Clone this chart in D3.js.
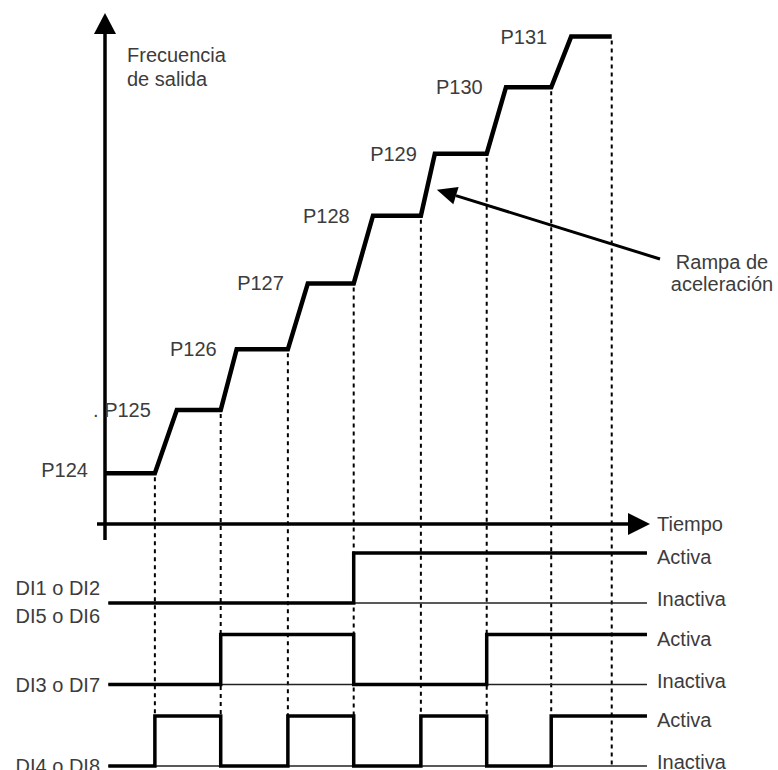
<!DOCTYPE html>
<meta charset="utf-8">
<script src="https://cdn.jsdelivr.net/npm/d3@7"></script>
<style>
body { margin: 0; background: #fff; }
text {
  font-family: "Liberation Sans", Arial, sans-serif;
  font-size: 20px;
  fill: #3c3c3c;
}
.thick { fill: none; stroke: #000; stroke-width: 4.5px; stroke-linejoin: miter; }
.sig { fill: none; stroke: #000; stroke-width: 3.5px; }
.ref { stroke: #222; stroke-width: 1.5px; }
.dots { stroke: #000; stroke-width: 2px; stroke-dasharray: 4,4; }
</style>
<body>
<script>
var width = 778,
    height = 770;

// speed references, one per step
var stepLabels = ["P124", ". P125", "P126", "P127", "P128", "P129", "P130", "P131"];
var stepLevels = [0.8, 1.8, 2.76, 3.8, 4.87, 5.85, 6.9, 7.7];
// times where the inputs change, and how long each ramp takes
var switchTimes = [0.75, 1.74, 2.75, 3.74, 4.75, 5.74, 6.71];
var rampTimes = [0.33, 0.24, 0.30, 0.29, 0.21, 0.29, 0.30];
var endTime = 7.62;

// digital inputs, state during each of the 8 steps
var inputNames = ["DI1 o DI2\nDI5 o DI6", "DI3 o DI7", "DI4 o DI8"];
var inputStates = [
  [0, 0, 0, 0, 1, 1, 1, 1],
  [0, 0, 1, 1, 0, 0, 1, 1],
  [0, 1, 0, 1, 0, 1, 0, 1]
];

var svg = d3.select("body").append("svg")
    .attr("width", width)
    .attr("height", height);

var x = d3.scaleLinear().domain([0, 8]).range([105, 105 + 8 * 66.5]);
var y = d3.scaleLinear().domain([0, 8]).range([524, 524 - 8 * 63.3]);

// rows of the digital panel
var rowLow = d3.scaleLinear().domain([0, 2]).range([603, 766]);
var rowHigh = function(i) { return rowLow(i) - 50; };

// ---- axes ----
svg.append("line")
    .attr("x1", x(0)).attr("x2", x(0))
    .attr("y1", 540).attr("y2", 30)
    .attr("stroke", "#000").attr("stroke-width", 3.5);
svg.append("path")
    .attr("d", "M" + x(0) + ",13L" + (x(0) - 11) + ",34L" + (x(0) + 11) + ",34Z")
    .attr("fill", "#000");

svg.append("line")
    .attr("x1", 97).attr("x2", 632)
    .attr("y1", y(0)).attr("y2", y(0))
    .attr("stroke", "#000").attr("stroke-width", 3.5);
svg.append("path")
    .attr("d", "M650," + y(0) + "L628," + (y(0) - 11) + "L628," + (y(0) + 11) + "Z")
    .attr("fill", "#000");

svg.append("text").attr("x", 127).attr("y", 62).text("Frecuencia");
svg.append("text").attr("x", 127).attr("y", 86).text("de salida");
svg.append("text").attr("x", 657).attr("y", y(0)).attr("dominant-baseline", "central").text("Tiempo");

// ---- dotted guides ----
var guideTimes = switchTimes.concat([endTime]);
svg.append("g").selectAll("line")
  .data(guideTimes)
  .enter().append("line")
    .attr("class", "dots")
    .attr("x1", function(d) { return x(d); })
    .attr("x2", function(d) { return x(d); })
    .attr("y1", function(d, i) { return y(stepLevels[i]) + 4; })
    .attr("y2", function(d, i) { return i == guideTimes.length - 1 ? rowLow(2) : rowHigh(2); });

// ---- frequency staircase ----
var pts = [[0, stepLevels[0]]];
switchTimes.forEach(function(t, i) {
  pts.push([t, stepLevels[i]]);
  pts.push([t + rampTimes[i], stepLevels[i + 1]]);
});
pts.push([endTime, stepLevels[stepLevels.length - 1]]);

var line = d3.line()
    .x(function(d) { return x(d[0]); })
    .y(function(d) { return y(d[1]); });

svg.append("path")
    .attr("class", "thick")
    .attr("d", line(pts));

// step labels
svg.append("g").selectAll("text")
  .data(stepLabels)
  .enter().append("text")
    .attr("text-anchor", "end")
    .attr("dominant-baseline", "central")
    .attr("x", function(d, i) { return i == 0 ? x(0) - 17 : x(switchTimes[i - 1]) - 4; })
    .attr("y", function(d, i) { return y(stepLevels[i]) + (i == 0 ? -3 : 0); })
    .text(function(d) { return d; });

// ---- ramp annotation ----
var rampTip = [x(switchTimes[4] + rampTimes[4] / 2) + 9, y((stepLevels[4] + stepLevels[5]) / 2) + 5];
var tail = [660, 259];
var dx = tail[0] - rampTip[0], dy = tail[1] - rampTip[1];
var len = Math.sqrt(dx * dx + dy * dy);
var ux = dx / len, uy = dy / len;
var base = [rampTip[0] + ux * 20, rampTip[1] + uy * 20];
svg.append("line")
    .attr("x1", tail[0]).attr("y1", tail[1])
    .attr("x2", base[0]).attr("y2", base[1])
    .attr("stroke", "#000").attr("stroke-width", 3);
svg.append("path")
    .attr("d", "M" + rampTip[0] + "," + rampTip[1]
      + "L" + (base[0] - uy * 9) + "," + (base[1] + ux * 9)
      + "L" + (base[0] + uy * 9) + "," + (base[1] - ux * 9) + "Z")
    .attr("fill", "#000");
svg.append("text").attr("x", 722).attr("y", 262).attr("text-anchor", "middle")
    .attr("dominant-baseline", "central").text("Rampa de");
svg.append("text").attr("x", 722).attr("y", 284).attr("text-anchor", "middle")
    .attr("dominant-baseline", "central").text("aceleración");

// ---- digital inputs ----
var sigStart = 0.05, sigEnd = 8.15;
var bounds = [sigStart].concat(switchTimes).concat([sigEnd]);

var rows = svg.append("g").selectAll("g")
  .data(inputStates)
  .enter().append("g");

rows.append("line")
    .attr("class", "ref")
    .attr("x1", x(sigStart)).attr("x2", x(sigEnd))
    .attr("y1", function(d, i) { return rowLow(i); })
    .attr("y2", function(d, i) { return rowLow(i); });

rows.append("path")
    .attr("class", "sig")
    .attr("d", function(states, r) {
      var p = [];
      states.forEach(function(s, k) {
        var yy = s ? rowHigh(r) : rowLow(r);
        p.push([x(bounds[k]), yy]);
        p.push([x(bounds[k + 1]), yy]);
      });
      return d3.line()(p);
    });

rows.each(function(states, r) {
  var g = d3.select(this);
  g.append("text").attr("x", 657).attr("y", rowHigh(r) + 4)
      .attr("dominant-baseline", "central").text("Activa");
  g.append("text").attr("x", 657).attr("y", rowLow(r) - 4)
      .attr("dominant-baseline", "central").text("Inactiva");
  var names = inputNames[r].split("\n");
  names.forEach(function(n, j) {
    g.append("text")
        .attr("x", 100).attr("text-anchor", "end")
        .attr("y", rowLow(r) + (names.length > 1 ? -15 + j * 28 : 0))
        .attr("dominant-baseline", "central")
        .text(n);
  });
});
</script>
</body>
</html>
